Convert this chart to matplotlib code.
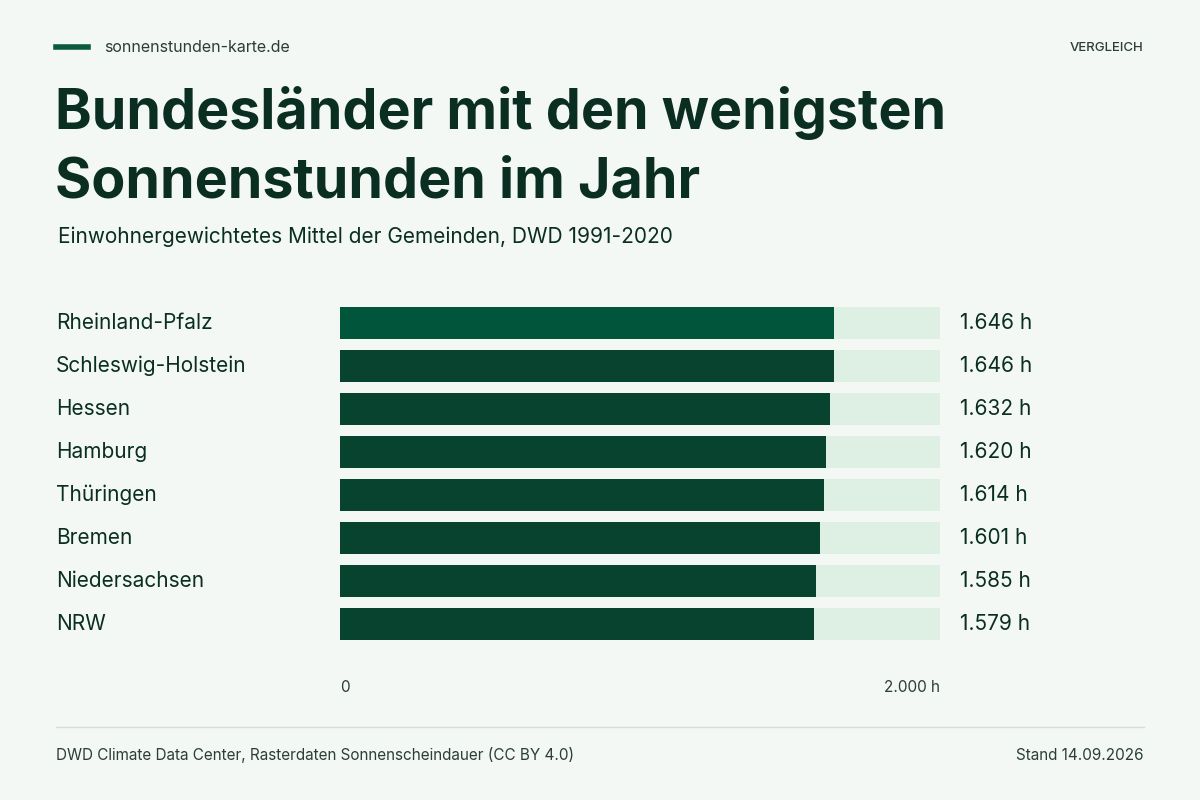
import matplotlib
matplotlib.use("Agg")
import matplotlib.pyplot as plt

states = ["Rheinland-Pfalz", "Schleswig-Holstein", "Hessen", "Hamburg",
          "Thüringen", "Bremen", "Niedersachsen", "NRW"]
hours = [1646, 1646, 1632, 1620, 1614, 1601, 1585, 1579]
value_labels = ["1.646 h", "1.646 h", "1.632 h", "1.620 h",
                "1.614 h", "1.601 h", "1.585 h", "1.579 h"]
axis_max = 2000

plt.rcParams['font.family'] = ['Inter', 'DejaVu Sans']
BG = "#f3f8f4"
DARK = "#0a2e22"
fig = plt.figure(figsize=(12, 8), dpi=100, facecolor=BG)
W, H = 1200, 800

def px(x, y):
    return x / W, 1 - y / H

# header
fig.add_artist(plt.Line2D([56/W, 88/W], [1-47/H]*2, color="#0b5a3c", lw=4))
fig.text(*px(104, 48), "sonnenstunden-karte.de", fontsize=11.5, color="#2c3e36", va="center")
fig.text(*px(1143, 48), "VERGLEICH", fontsize=9.5, color="#2c3e36", va="center", ha="right",
         fontweight="medium")
fig.text(*px(55, 113), "Bundesländer mit den wenigsten", fontsize=40, fontweight="bold",
         color=DARK, va="center")
fig.text(*px(55, 183), "Sonnenstunden im Jahr", fontsize=40, fontweight="bold",
         color=DARK, va="center")
fig.text(*px(58, 237), "Einwohnergewichtetes Mittel der Gemeinden, DWD 1991-2020",
         fontsize=15, color=DARK, va="center")

# axes
top, bottom = 301.5, 645.5
ax = fig.add_axes([340/W, 1-bottom/H, 600/W, (bottom-top)/H])
ax.set_facecolor(BG)
ax.set_xlim(0, axis_max)
ax.set_ylim(len(states)-0.5, -0.5)
ys = list(range(len(states)))
ax.barh(ys, [axis_max]*len(states), height=0.745, color="#deefe4")
colors = ["#00553a"] + ["#07432f"]*(len(states)-1)
ax.barh(ys, hours, height=0.745, color=colors)
for s in ax.spines.values():
    s.set_visible(False)
ax.set_xticks([]); ax.set_yticks([])
for y, st, vl in zip(ys, states, value_labels):
    ax.text(-284/600*axis_max, y, st, fontsize=15, color=DARK, va="center", ha="left")
    ax.text(620/600*axis_max, y, vl, fontsize=15, color=DARK, va="center", ha="left")

fig.text(*px(340, 688), "0", fontsize=11, color="#2c3e36", va="center")
fig.text(*px(940, 688), "2.000 h", fontsize=11, color="#2c3e36", va="center", ha="right")

# footer
fig.add_artist(plt.Line2D([56/W, 1144/W], [1-727/H]*2, color="#d5ddd8", lw=1))
fig.text(*px(56, 755), "DWD Climate Data Center, Rasterdaten Sonnenscheindauer (CC BY 4.0)",
         fontsize=11, color="#2c3e36", va="center")
fig.text(*px(1143, 755), "Stand 14.09.2026", fontsize=11, color="#2c3e36", va="center", ha="right")

fig.savefig("out.png", dpi=100, facecolor=BG)
